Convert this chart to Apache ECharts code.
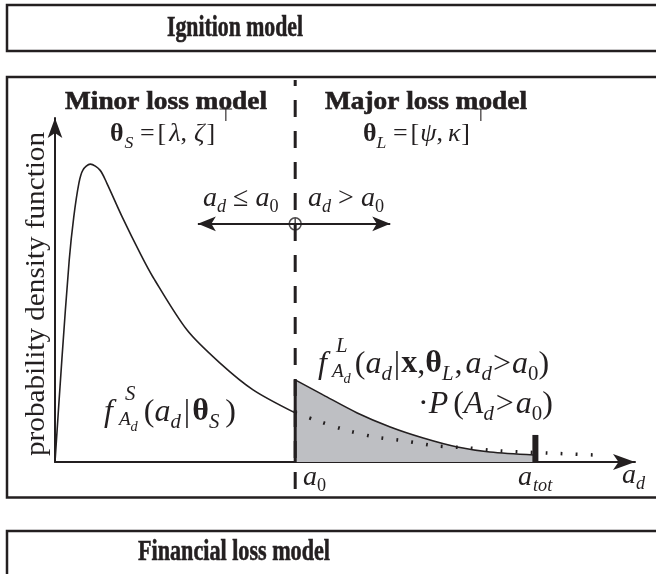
<!DOCTYPE html>
<html lang="en">
<head>
<meta charset="UTF-8">
<title>Ignition and loss model</title>
<script src="https://cdn.jsdelivr.net/npm/echarts@6/dist/echarts.min.js"></script>
<style>
  html, body { margin: 0; padding: 0; background: #fff; }
  #main { width: 656px; height: 574px; }
</style>
</head>
<body>
<div id="main"></div>
<script>
// pdf curves (x: loss axis, y: density)
var minorX = [0, 0.12, 0.25, 0.33, 0.42, 0.49, 0.62, 0.79, 0.91, 1.18, 1.51, 1.72, 2.32, 2.90, 3.48, 4.22];
var minorY = [0, 0.305, 0.605, 0.734, 0.835, 0.874, 0.892, 0.874, 0.835, 0.734, 0.620, 0.554, 0.395, 0.296, 0.216, 0.147];
var majorX = [4.22, 4.71, 5.31, 5.89, 6.47, 7.07, 7.64, 8.42];
var majorY = [0.246, 0.201, 0.147, 0.105, 0.072, 0.045, 0.030, 0.021];
// dotted continuation of the minor pdf
var tailX = [4.22, 4.57, 5.10, 5.62, 6.15, 6.71, 7.26, 7.82, 8.65, 9.46];
var tailY = [0.147, 0.126, 0.096, 0.075, 0.063, 0.048, 0.042, 0.033, 0.027, 0.021];

var xMax = 10.19, yMax = 1.03;   // axis ends (arrow tips)
var a0 = 4.22;            // threshold
var aTot = 8.44;          // total loss
var barTop = 0.081;
var arrowY = 0.713, arrowLeft = 2.51, arrowRight = 5.89;
var cutTop = 1.144, cutBottom = -0.107;

var titles = ['Ignition model', 'Minor loss model', 'Major loss model', 'Financial loss model'];
var yName = 'probability density function';

var INK = '#231f20';
var GREY = '#bebfc3';
var FAM = '"Liberation Serif", "Times New Roman", serif';
var MID = 0.34;   // canvas 'middle' sits about this far above the baseline

var ctx = document.createElement('canvas').getContext('2d');
function fnt(fs, k) {
    return (k.indexOf('i') >= 0 ? 'italic ' : '') + (k.indexOf('b') >= 0 ? 'bold ' : '') + fs.toFixed(1) + 'px ' + FAM;
}
function measure(t, font) { ctx.font = font; return ctx.measureText(t).width; }

// lay out a small formula piece by piece: [text, kind, scale, dy(em), dx(px), back]
// back = n puts the piece at the start of the piece n steps earlier (stacked sub/sup)
function run(x0, base, size, parts) {
    var els = [], starts = [], far = x0;
    parts.forEach(function (p) {
        var t = p[0], k = p[1] || 'r', s = p[2] || 1, dy = p[3] || 0, dx = p[4] || 0;
        var fs = size * s, font = fnt(fs, k);
        var px = (p[5] ? starts[starts.length - p[5]] : far) + dx;
        els.push({
            type: 'text', x: px, y: base + dy * size - MID * fs, silent: true,
            style: { text: t, font: font, fill: INK, align: 'left', verticalAlign: 'middle' }
        });
        starts.push(p[5] ? starts[starts.length - p[5]] : px);
        far = Math.max(far, px + measure(t, font));
    });
    return els;
}
function fit(t, fs, k, cx, base, w, rot) {
    var font = fnt(fs, k);
    var el = {
        type: 'text', x: cx, y: base - MID * fs, silent: true, scaleX: w / measure(t, font),
        style: { text: t, font: font, fill: INK, align: 'center', verticalAlign: 'middle' }
    };
    if (k === 'b') { el.style.stroke = INK; el.style.lineWidth = 0.6; }
    if (rot) { el.x = cx; el.y = base; el.rotation = Math.PI / 2; }
    return el;
}
function box(y, h) {
    return { type: 'rect', silent: true, shape: { x: 7, y: y, width: 700, height: h },
             style: { fill: 'none', stroke: INK, lineWidth: 2.5 } };
}

var SUB = 0.2;
var graphics = [
    box(5, 46), box(77, 420.5), box(531, 60),
    fit(titles[0], 30, 'b', 235, 38, 136),
    fit(titles[1], 25, 'b', 166, 111, 202),
    fit(titles[2], 25, 'b', 426, 111, 202),
    fit(titles[3], 30, 'b', 234, 562, 192),
    fit(yName, 27, 'r', 46 - MID * 27, 294, 324, true)
].concat(
    run(110, 143, 26, [['θ', 'b'], ['S', 'i', 0.68, 0.25, 1], [' =', 'r'], ['[', 'r', 1, 0, 3], ['λ', 'i', 1, 0, 3],
        [',', 'r'], ['ζ', 'i', 1, 0, 7], [']', 'r', 1, 0, 2], ['⊤', 'r', 0.7, -0.8, 3]]),
    run(363, 143, 26, [['θ', 'b'], ['L', 'i', 0.68, 0.25, 0], [' =', 'r'], ['[', 'r', 1, 0, 3], ['ψ', 'i', 1, 0, 1],
        [',', 'r'], ['κ', 'i', 1, 0, 5], [']', 'r', 1, 0, 1], ['⊤', 'r', 0.7, -0.8, 3]]),
    run(203, 208, 28, [['a', 'i'], ['d', 'i', 0.65, SUB], [' ≤ ', 'r'], ['a', 'i'], ['0', 'r', 0.65, SUB]]),
    run(308, 208, 28, [['a', 'i'], ['d', 'i', 0.65, SUB], [' > ', 'r'], ['a', 'i'], ['0', 'r', 0.65, SUB]]),
    run(104, 423, 32, [['f', 'i'], ['A', 'i', 0.6, 0.1, 6], ['d', 'i', 0.45, 0.3], ['S', 'i', 0.65, -0.68, 6, 2],
        ['(', 'r', 1, 0, 6], ['a', 'i'], ['d', 'i', 0.65, SUB], ['|', 'r', 1, 0, 3], ['θ', 'b', 1, 0, 2],
        ['S', 'i', 0.65, SUB], [')', 'r', 1, 0, 6]]),
    run(318, 375, 32, [['f', 'i'], ['A', 'i', 0.6, 0.1, 5], ['d', 'i', 0.45, 0.3], ['L', 'i', 0.65, -0.68, 4, 2],
        ['(', 'r', 1, 0, 4], ['a', 'i'], ['d', 'i', 0.65, SUB], ['|', 'r', 1, 0, 2], ['x', 'b', 1, 0, 1], [',', 'r'],
        ['θ', 'b'], ['L', 'i', 0.65, SUB], [',', 'r', 1, 0, 1], ['a', 'i', 1, 0, 3], ['d', 'i', 0.65, SUB],
        ['>', 'r', 1, 0, 1], ['a', 'i', 1, 0, 1], ['0', 'r', 0.65, SUB], [')', 'r']]),
    run(418, 415, 32, [['·', 'r'], ['P', 'i'], ['(', 'r', 1, 0, 5], ['A', 'i'], ['d', 'i', 0.65, SUB],
        ['>', 'r', 1, 0, 2], ['a', 'i', 1, 0, 2], ['0', 'r', 0.65, SUB], [')', 'r']]),
    run(303, 487, 28, [['a', 'i'], ['0', 'r', 0.65, SUB]]),
    run(518, 487, 28, [['a', 'i'], ['tot', 'i', 0.65, SUB, 1]]),
    run(622, 485, 28, [['a', 'i'], ['d', 'i', 0.65, SUB]])
);

function zip(xs, ys) { return xs.map(function (x, i) { return [x, ys[i]]; }); }

var chart = echarts.init(document.getElementById('main'), null, { renderer: 'canvas' });
var axisCommon = {
    type: 'value', min: 0,
    axisLabel: { show: false }, axisTick: { show: false }, splitLine: { show: false },
    axisLine: { show: true, onZero: false, symbol: ['none', 'arrow'], lineStyle: { color: INK, width: 2 } }
};
chart.setOption({
    animation: false,
    backgroundColor: '#fff',
    grid: { left: 55, right: 21, top: 118, bottom: 112 },
    xAxis: echarts.util.merge({ max: xMax, axisLine: { symbolSize: [12, 22] } }, axisCommon),
    yAxis: echarts.util.merge({ max: yMax, axisLine: { symbolSize: [11, 20] } }, axisCommon),
    series: [
        {
            type: 'line', data: zip(majorX, majorY), smooth: 0.3, symbol: 'none', z: 2,
            lineStyle: { color: INK, width: 1.6 }, areaStyle: { color: GREY, opacity: 1 }
        },
        {
            type: 'line', data: zip(minorX, minorY), smooth: 0.3, symbol: 'none', z: 3,
            lineStyle: { color: INK, width: 1.6 }
        },
        {
            type: 'line', data: zip(tailX, tailY), smooth: 0.3, symbol: 'none', z: 4,
            lineStyle: { color: INK, width: 3.5, type: [1.8, 13.2], cap: 'butt' }
        },
        {
            type: 'line', data: [[a0, cutTop], [a0, cutBottom]], symbol: 'none', clip: false, z: 5,
            lineStyle: { color: INK, width: 3, type: [17, 14], dashOffset: 11, cap: 'butt' },
            markLine: {
                silent: true, symbol: ['arrow', 'arrow'], symbolSize: [11, 18],
                label: { show: false }, lineStyle: { type: 'solid', color: INK, width: 1.8 },
                data: [[{ coord: [arrowLeft, arrowY] }, { coord: [arrowRight, arrowY] }]]
            }
        },
        {
            type: 'line', data: [[a0, 0], [a0, majorY[0]]], symbol: 'none', z: 5,
            lineStyle: { color: INK, width: 3, cap: 'butt' }
        },
        {
            type: 'line', data: [[aTot, 0], [aTot, barTop]], symbol: 'none', z: 6,
            lineStyle: { color: INK, width: 6, cap: 'butt' }
        },
        {
            type: 'scatter', data: [[a0, arrowY]], z: 7, symbolSize: 12,
            symbol: 'path://M0,10A10,10,0,1,1,20,10A10,10,0,1,1,0,10ZM10,0L10,20M0,10L20,10',
            itemStyle: { color: 'rgba(0,0,0,0)', borderColor: INK, borderWidth: 1.5 }
        }
    ],
    graphic: graphics
});
</script>
</body>
</html>
